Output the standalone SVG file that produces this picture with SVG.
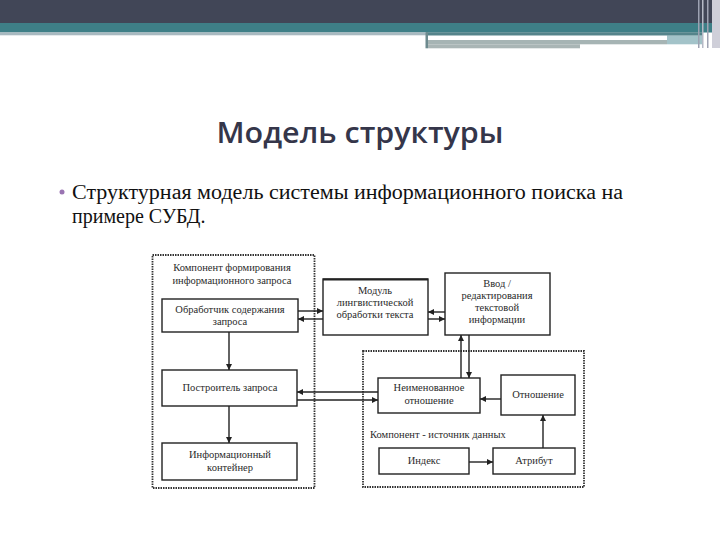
<svg xmlns="http://www.w3.org/2000/svg" width="720" height="540" viewBox="0 0 720 540">
<style>
.box{fill:#fff;stroke:#222;stroke-width:1.4}
.cont{fill:none;stroke:#333;stroke-width:1.8;stroke-dasharray:1.5 1}
.t{font-family:"Liberation Serif","DejaVu Serif",serif;font-size:10.5px;fill:#2a2a2a;text-anchor:middle}
.tl{font-family:"Liberation Serif","DejaVu Serif",serif;font-size:10.5px;fill:#2a2a2a}
.c{stroke:#222;stroke-width:1.4;fill:none;marker-end:url(#ah)}
</style>
<defs>
<marker id="ah" markerUnits="userSpaceOnUse" markerWidth="7" markerHeight="6" refX="6" refY="3" orient="auto">
<path d="M0,0 L6,3 L0,6 z" fill="#222"/>
</marker>
</defs>
<rect width="720" height="540" fill="#fff"/>
<g id="header">
<rect x="0" y="0" width="720" height="24" fill="#414657"/>
<rect x="0" y="23" width="720" height="9.5" fill="#3e7f87"/>
<rect x="0" y="32.3" width="426" height="3" fill="#a8b9c0"/>
<rect x="426" y="32.3" width="276" height="3.4" fill="#55848b"/>
<rect x="428" y="35.7" width="239" height="4.3" fill="#ffffff"/>
<rect x="667" y="35.7" width="35" height="8.6" fill="#a3c3c9"/>
<rect x="428" y="40" width="239" height="4.3" fill="#a6b4b4"/>
<rect x="428" y="44.3" width="152" height="4" fill="#a9b5b5"/>
<rect x="425.5" y="32.3" width="2.5" height="16" fill="#6d8a8e"/>
<rect x="712" y="0" width="8" height="48" fill="#cfcfd9"/>
<rect x="698" y="0" width="1.5" height="48" fill="#9da2b2"/>
<rect x="702" y="0" width="1.5" height="48" fill="#b5b9c6"/>
<rect x="707" y="0" width="1.5" height="48" fill="#9fa3b3"/>
</g>
<g id="title">
<text x="360" y="143" font-family="'Open Sans','DejaVu Sans',sans-serif" font-size="28" font-weight="600" fill="#35364a" text-anchor="middle" textLength="287" lengthAdjust="spacingAndGlyphs">Модель структуры</text>
</g>
<g id="bullet">
<circle cx="62" cy="192" r="2.5" fill="#9a74b2"/>
<text x="72" y="199" font-family="'Liberation Serif','DejaVu Serif',serif" font-size="20" fill="#111" textLength="551" lengthAdjust="spacingAndGlyphs">Структурная модель системы информационного поиска на</text>
<text x="72" y="223" font-family="'Liberation Serif','DejaVu Serif',serif" font-size="20" fill="#111">примере СУБД.</text>
</g>
<g id="container-query">
<rect class="cont" x="152.5" y="255" width="162" height="233"/>
<text class="t" x="232" y="271">Компонент формирования</text>
<text class="t" x="232" y="284">информационного запроса</text>
</g>
<g id="container-source">
<rect class="cont" x="363" y="351" width="221" height="136"/>
<text class="tl" x="370" y="438">Компонент - источник данных</text>
</g>
<g id="node-handler">
<rect class="box" x="162" y="299" width="136" height="33"/>
<text class="t" x="230" y="313">Обработчик содержания</text>
<text class="t" x="230" y="325">запроса</text>
</g>
<g id="node-builder">
<rect class="box" x="162" y="370" width="135" height="36"/>
<text class="t" x="230" y="391">Построитель запроса</text>
</g>
<g id="node-container">
<rect class="box" x="162" y="443" width="135" height="37"/>
<text class="t" x="230" y="458">Информационный</text>
<text class="t" x="230" y="471">контейнер</text>
</g>
<g id="node-linguistic">
<rect class="box" x="323" y="279" width="105" height="56"/>
<line x1="323" y1="279.5" x2="428" y2="279.5" stroke="#222" stroke-width="2"/>
<text class="t" x="375" y="294">Модуль</text>
<text class="t" x="375" y="306">лингвистической</text>
<text class="t" x="375" y="318">обработки текста</text>
</g>
<g id="node-input">
<rect class="box" x="445" y="273" width="105" height="62"/>
<text class="t" x="497" y="287">Ввод /</text>
<text class="t" x="497" y="299">редактирования</text>
<text class="t" x="497" y="311">текстовой</text>
<text class="t" x="497" y="323">информации</text>
</g>
<g id="node-unnamed">
<rect class="box" x="378" y="378" width="102" height="35"/>
<text class="t" x="429" y="391">Неименованное</text>
<text class="t" x="429" y="404">отношение</text>
</g>
<g id="node-relation">
<rect class="box" x="501" y="375" width="74" height="40"/>
<text class="t" x="538" y="398">Отношение</text>
</g>
<g id="node-index">
<rect class="box" x="379" y="448" width="90" height="26"/>
<text class="t" x="424" y="464">Индекс</text>
</g>
<g id="node-attribute">
<rect class="box" x="493" y="448" width="82" height="26"/>
<text class="t" x="534" y="464">Атрибут</text>
</g>
<g id="connectors">
<line class="c" x1="298" y1="311" x2="323" y2="311" stroke-width="2"/>
<line class="c" x1="323" y1="319" x2="298" y2="319"/>
<line class="c" x1="445" y1="312" x2="428" y2="312"/>
<line class="c" x1="428" y1="319" x2="445" y2="319"/>
<line class="c" x1="229" y1="332" x2="229" y2="370"/>
<line class="c" x1="229" y1="406" x2="229" y2="443"/>
<line class="c" x1="378" y1="392" x2="297" y2="392"/>
<line class="c" x1="297" y1="400" x2="378" y2="400"/>
<line class="c" x1="461" y1="378" x2="461" y2="335"/>
<line class="c" x1="469" y1="335" x2="469" y2="378"/>
<line class="c" x1="501" y1="399" x2="480" y2="399"/>
<line class="c" x1="469" y1="462" x2="493" y2="462"/>
<line class="c" x1="543" y1="448" x2="543" y2="415"/>
</g>
</svg>
